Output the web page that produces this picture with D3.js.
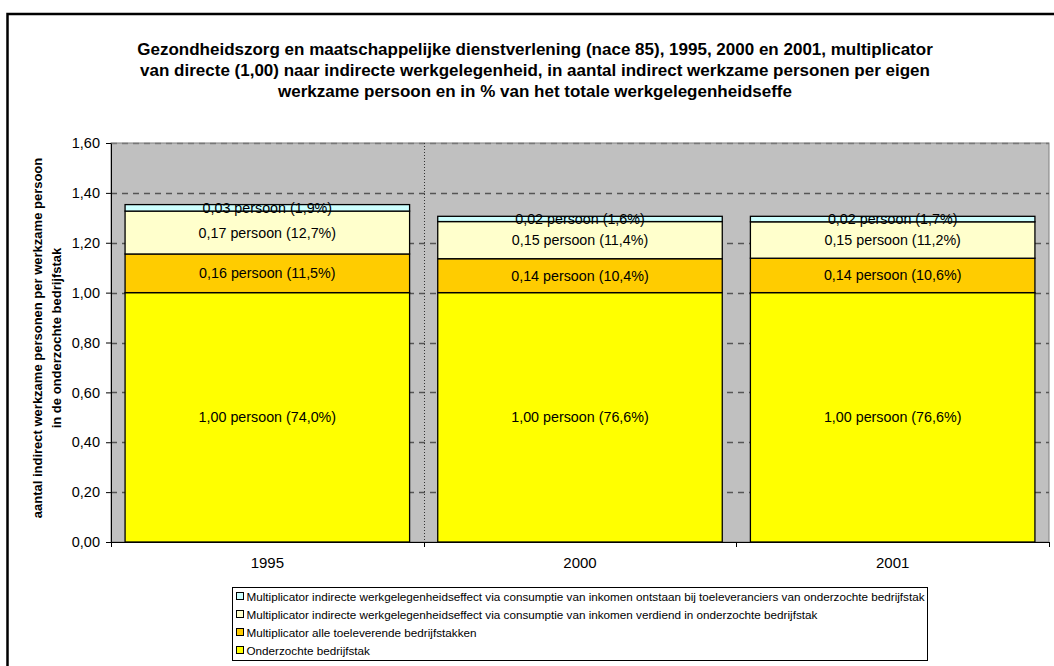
<!DOCTYPE html>
<html>
<head>
<meta charset="utf-8">
<script src="https://cdn.jsdelivr.net/npm/d3@7"></script>
<style>
  body { margin: 0; background: #fff; }
  text { font-family: Arial, "Liberation Sans", sans-serif; }
</style>
</head>
<body>
<svg id="grafico" width="1054" height="666"></svg>
<script>
// --- data ---
const jaren = ["1995", "2000", "2001"];
const onderzocht = [1.00, 1.00, 1.00];
const toeleverend = [0.155, 0.136, 0.138];
const consumptieEigen = [0.172, 0.149, 0.146];
const consumptieToelev = [0.026, 0.021, 0.022];

const labelsOnderzocht = ["1,00 persoon (74,0%)", "1,00 persoon (76,6%)", "1,00 persoon (76,6%)"];
const labelsToeleverend = ["0,16 persoon (11,5%)", "0,14 persoon (10,4%)", "0,14 persoon (10,6%)"];
const labelsConsEigen = ["0,17 persoon (12,7%)", "0,15 persoon (11,4%)", "0,15 persoon (11,2%)"];
const labelsConsToelev = ["0,03 persoon (1,9%)", "0,02 persoon (1,6%)", "0,02 persoon (1,7%)"];

const reeksNamen = [
  "Onderzochte bedrijfstak",
  "Multiplicator alle toeleverende bedrijfstakken",
  "Multiplicator indirecte werkgelegenheidseffect via consumptie van inkomen verdiend in onderzochte bedrijfstak",
  "Multiplicator indirecte werkgelegenheidseffect via consumptie van inkomen ontstaan bij toeleveranciers van onderzochte bedrijfstak"
];
const kleuren = ["#ffff00", "#ffcc00", "#ffffcc", "#ccffff"];
const yTicks = [0, 0.2, 0.4, 0.6, 0.8, 1.0, 1.2, 1.4, 1.6];

const titel = [
  "Gezondheidszorg en maatschappelijke dienstverlening (nace 85), 1995, 2000 en 2001, multiplicator",
  "van directe (1,00) naar indirecte werkgelegenheid, in aantal indirect werkzame personen per eigen",
  "werkzame persoon en in % van het totale werkgelegenheidseffe"
];
const yTitel = ["aantal indirect werkzame personen per werkzame persoon", "in de onderzochte bedrijfstak"];

// --- layout ---
const plot = {left: 111, right: 1049, top: 143, bottom: 542};
const svg = d3.select("#grafico");

// outer frame
svg.append("rect")
  .attr("x", 7.5).attr("y", 14)
  .attr("width", 1100).attr("height", 700)
  .attr("fill", "#fff").attr("stroke", "#000").attr("stroke-width", 2.5);

// title
svg.append("g").selectAll("text").data(titel).join("text")
  .attr("x", 535).attr("y", (d, i) => 55 + i * 21)
  .attr("text-anchor", "middle")
  .attr("font-size", "17px").attr("font-weight", "bold")
  .text(d => d);

// scales
const x = d3.scaleBand().domain(jaren).range([plot.left, plot.right]);
const xBar = d3.scaleBand().domain(jaren).range([plot.left, plot.right])
  .paddingInner(0.09).paddingOuter(0.045);
const y = d3.scaleLinear().domain([0, 1.6]).range([plot.bottom, plot.top]);

// plot background
svg.append("rect")
  .attr("x", plot.left).attr("y", plot.top)
  .attr("width", plot.right - plot.left).attr("height", plot.bottom - plot.top)
  .attr("fill", "#c0c0c0").attr("stroke", "#808080").attr("stroke-width", 1);

// gridlines
svg.append("g").selectAll("line").data(yTicks.slice(1)).join("line")
  .attr("x1", plot.left).attr("x2", plot.right)
  .attr("y1", d => Math.round(y(d)) + 0.5).attr("y2", d => Math.round(y(d)) + 0.5)
  .attr("stroke", d => d === 1.6 ? "#777" : "#555").attr("stroke-width", 1.3)
  .attr("stroke-dasharray", "6,5");

// dotted divider between first two categories
svg.append("line")
  .attr("x1", Math.round(x("2000")) + 0.5).attr("x2", Math.round(x("2000")) + 0.5)
  .attr("y1", plot.top).attr("y2", plot.bottom)
  .attr("stroke", "#333").attr("stroke-width", 1)
  .attr("stroke-dasharray", "1,2");

// stacked bars
const tabel = jaren.map((j, i) => ({
  jaar: j, s0: onderzocht[i], s1: toeleverend[i], s2: consumptieEigen[i], s3: consumptieToelev[i]
}));
const reeks = d3.stack().keys(["s0", "s1", "s2", "s3"])(tabel);
const labels = [labelsOnderzocht, labelsToeleverend, labelsConsEigen, labelsConsToelev];

const lagen = svg.append("g").selectAll("g").data(reeks).join("g")
  .attr("fill", (d, i) => kleuren[i]);

lagen.selectAll("rect").data(d => d).join("rect")
  .attr("x", d => xBar(d.data.jaar))
  .attr("y", d => y(d[1]))
  .attr("width", xBar.bandwidth())
  .attr("height", d => y(d[0]) - y(d[1]))
  .attr("stroke", "#000").attr("stroke-width", 1.3);

const tekstLaag = svg.append("g");
reeks.forEach((s, k) => {
  tekstLaag.selectAll(null).data(s).join("text")
    .attr("x", d => xBar(d.data.jaar) + xBar.bandwidth() / 2)
    .attr("y", d => (y(d[0]) + y(d[1])) / 2)
    .attr("dy", "0.35em")
    .attr("text-anchor", "middle")
    .attr("font-size", "14.3px")
    .attr("fill", "#000")
    .text((d, i) => labels[k][i]);
});

// y axis
const asseY = svg.append("g")
  .attr("transform", `translate(${plot.left},0)`)
  .call(d3.axisLeft(y).tickValues(yTicks).tickSize(5).tickSizeOuter(0).tickPadding(6)
    .tickFormat(d => d3.format(".2f")(d).replace(".", ",")));
asseY.select(".domain").attr("stroke", "#000");
asseY.selectAll("text").attr("font-size", "14.5px").attr("font-family", "Arial, 'Liberation Sans', sans-serif").attr("fill", "#000");

// x axis
const asseX = svg.append("g").attr("transform", `translate(0,${plot.bottom})`);
asseX.append("line").attr("x1", plot.left).attr("x2", plot.right)
  .attr("y1", 0.5).attr("y2", 0.5).attr("stroke", "#000");
asseX.selectAll("line.tick").data([...jaren.map(j => x(j)), plot.right]).join("line")
  .attr("class", "tick")
  .attr("x1", d => Math.round(d) + 0.5).attr("x2", d => Math.round(d) + 0.5)
  .attr("y1", 0).attr("y2", 5).attr("stroke", "#000");
asseX.selectAll("text").data(jaren).join("text")
  .attr("x", d => x(d) + x.bandwidth() / 2).attr("y", 26)
  .attr("text-anchor", "middle").attr("font-size", "15px")
  .text(d => d);

// y title
svg.append("g").selectAll("text").data(yTitel).join("text")
  .attr("transform", (d, i) => `translate(${42 + i * 19},338) rotate(-90)`)
  .attr("text-anchor", "middle")
  .attr("font-size", "13px").attr("font-weight", "bold")
  .text(d => d);

// legend
const legenda = svg.append("g").attr("transform", "translate(232.5,587.5)");
legenda.append("rect").attr("width", 695).attr("height", 73)
  .attr("fill", "#fff").attr("stroke", "#000");
const legVolgorde = [3, 2, 1, 0];
const items = legenda.selectAll("g").data(legVolgorde).join("g")
  .attr("transform", (d, i) => `translate(4,${5 + i * 18})`);
items.append("rect").attr("width", 7).attr("height", 7)
  .attr("fill", d => kleuren[d]).attr("stroke", "#000").attr("stroke-width", 1);
items.append("text").attr("x", 10).attr("y", 4).attr("dy", "0.35em")
  .attr("font-size", "11.7px").text(d => reeksNamen[d]);
</script>
</body>
</html>
